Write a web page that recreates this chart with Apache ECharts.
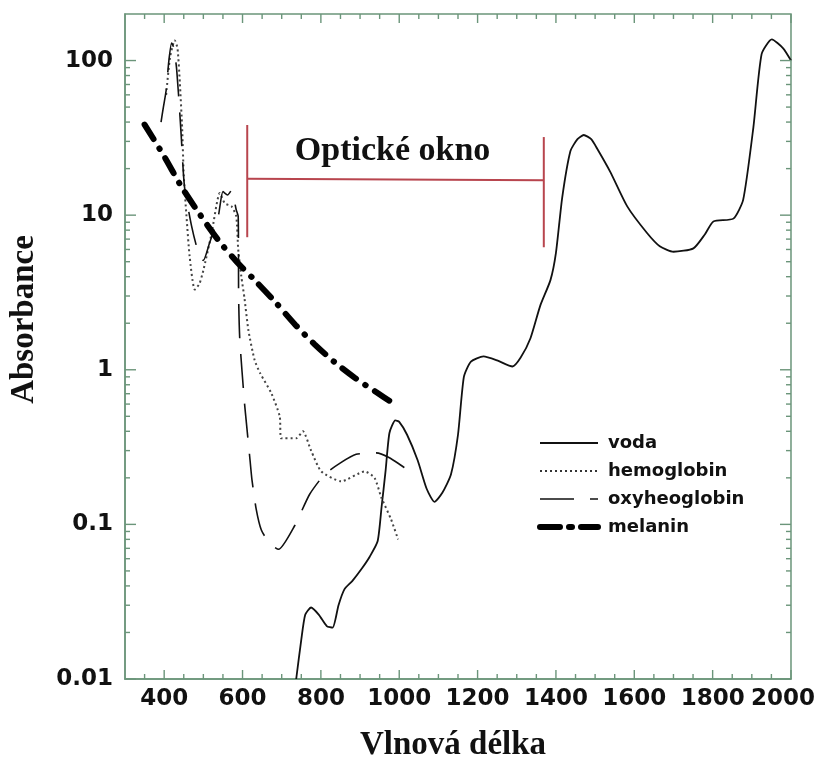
<!DOCTYPE html>
<html>
<head>
<meta charset="utf-8">
<script src="https://cdn.jsdelivr.net/npm/echarts@6/dist/echarts.min.js"></script>
<style>html,body{margin:0;padding:0;background:#fff}#c{width:818px;height:767px}</style>
</head>
<body>
<div id="c"></div>
<script>
// ---------- data ----------
const vodaX = [737,750,760,775,795,815,830,845,860,880,905,925,945,955,965,975,990,1000,1020,1047,1070,1090,1110,1132,1150,1165,1183,1215,1250,1289,1310,1335,1360,1386,1400,1416,1437,1455,1471,1490,1505,1539,1582,1632,1665,1700,1751,1780,1802,1853,1878,1904,1925,1951,1980,2000];
const vodaY = [0.01,0.018,0.026,0.029,0.026,0.022,0.0215,0.03,0.038,0.043,0.052,0.062,0.078,0.13,0.22,0.39,0.47,0.46,0.38,0.26,0.17,0.14,0.16,0.21,0.38,0.9,1.13,1.22,1.15,1.05,1.2,1.6,2.6,3.8,5.7,13,26,31,33,31,27,19,11.4,7.7,6.3,5.8,6.1,7.5,9.1,9.5,12.6,37,110,137,120,100];

const hemoX = [405,415,427,434,440,446,450,457,465,478,490,500,521,542,555,572,584,589,597,605,615,631,645,673,695,699,737,754,775,801,852,912,937,954,979,997];
const hemoY = [60,105,135,120,72,36,18,9.8,5.4,3.3,3.6,4.4,7.6,13.9,11.9,11.4,9.8,6.0,4.0,2.9,1.8,1.15,0.95,0.71,0.50,0.36,0.36,0.40,0.30,0.22,0.19,0.22,0.20,0.15,0.108,0.08];

const oxyX = [392,398,405,412,419,425,432,440,444,449,453,470,485,500,515,538,550,562,572,584,589,590,593,605,610,619,624,635,648,670,692,733,771,809,850,890,941,975,1013];
const oxyY = [40,50,64,100,130,120,87,45,31,18.7,14.5,8.5,6.0,5.1,6.5,9.8,14.2,13.5,14.5,10.8,9.8,3.0,1.57,0.61,0.45,0.263,0.195,0.125,0.092,0.075,0.069,0.098,0.156,0.21,0.25,0.284,0.29,0.27,0.233];

const melaninX = [350,400,444,490,538,585,631,682,735,784,835,886,940,988];
const melaninY = [38.5,24,15.3,10.2,6.9,5.0,3.8,2.77,1.95,1.46,1.12,0.89,0.72,0.6];

const seriesNames = ['voda','hemoglobin','oxyheoglobin','melanin'];

// optical window bracket (wavelength, absorbance)
const windowLeftX = [612, 612];
const windowLeftY = [38.3, 7.2];
const windowRightX = [1369, 1369];
const windowRightY = [32, 6.2];
const windowBarX = [612, 1369];
const windowBarY = [17.2, 16.8];
const windowLabel = 'Optické okno';
const windowLabelPos = [983, 25.8];

// axes
const xMin = 300, xMax = 2000;
const yMin = 0.01, yMax = 200;
const xTickValues = [400,600,800,1000,1200,1400,1600,1800,2000];
const xTickLabels = ['400','600','800','1000','1200','1400','1600','1800','2000'];
const xMinorTicks = [350,450,500,550,650,700,750,850,900,950,1050,1100,1150,1250,1300,1350,1450,1500,1550,1650,1700,1750,1850,1900,1950];
const yTickValues = [0.01,0.1,1,10,100];
const yTickLabels = ['0.01','0.1','1','10','100'];
const yMinorTicks = [0.02,0.03,0.04,0.05,0.06,0.07,0.08,0.09,0.2,0.3,0.4,0.5,0.6,0.7,0.8,0.9,2,3,4,5,6,7,8,9,20,30,40,50,60,70,80,90];
const xTitle = 'Vlnová délka';
const yTitle = 'Absorbance';

// ---------- chart ----------
const pairs = (xs, ys) => xs.map((x, i) => [x, ys[i]]);
const FRAME = '#6b957a';
const RED = '#b8454e';
const SANS = 'DejaVu Sans';
const SERIF = 'Liberation Serif';
const HIDDEN_SYMBOL = { color: 'rgba(0,0,0,0)', borderWidth: 0, opacity: 0 };

function tickSeries(axis, values, len) {
  return {
    type: 'custom', coordinateSystem: 'cartesian2d', silent: true, z: 6,
    data: values.map(v => axis === 'x' ? [v, 1] : [xMin, v]),
    renderItem: function (params, api) {
      const cs = params.coordSys;
      const p = api.coord([api.value(0), api.value(1)]);
      const st = { stroke: FRAME, lineWidth: 1.4 };
      if (axis === 'x') {
        return { type: 'group', children: [
          { type: 'line', shape: { x1: p[0], y1: cs.y + cs.height, x2: p[0], y2: cs.y + cs.height - len }, style: st },
          { type: 'line', shape: { x1: p[0], y1: cs.y, x2: p[0], y2: cs.y + len }, style: st }
        ]};
      }
      return { type: 'group', children: [
        { type: 'line', shape: { x1: cs.x, y1: p[1], x2: cs.x + len, y2: p[1] }, style: st },
        { type: 'line', shape: { x1: cs.x + cs.width, y1: p[1], x2: cs.x + cs.width - len, y2: p[1] }, style: st }
      ]};
    }
  };
}

function redLine(xs, ys) {
  return { type: 'line', data: pairs(xs, ys), symbol: 'none', silent: true, z: 3,
    lineStyle: { color: RED, width: 2 }, itemStyle: { color: RED } };
}

const chart = echarts.init(document.getElementById('c'), null, { renderer: 'canvas' });
chart.setOption({
  animation: false,
  backgroundColor: '#fff',
  grid: { left: 123, right: 27, top: 14, bottom: 87, show: true, borderColor: FRAME, borderWidth: 1.5, backgroundColor: 'transparent' },
  xAxis: {
    type: 'value', min: xMin, max: xMax, interval: 100,
    name: xTitle, nameLocation: 'middle', nameGap: 50,
    nameTextStyle: { fontFamily: SERIF, fontWeight: 'bold', fontSize: 33, color: '#111', padding: [0, 10, 0, 0] },
    axisLine: { show: true, lineStyle: { color: FRAME, width: 1.5 } },
    axisTick: { show: false }, splitLine: { show: false },
    axisLabel: {
      interval: 0, margin: 9, fontFamily: SANS, fontWeight: 'bold', fontSize: 23, color: '#111',
      formatter: function (v) {
        const i = xTickValues.indexOf(v);
        if (i < 0) return '';
        return i === xTickValues.length - 1 ? '{e|' + xTickLabels[i] + '}' : xTickLabels[i];
      },
      rich: { e: { fontFamily: SANS, fontWeight: 'bold', fontSize: 23, color: '#111', padding: [0, 16, 0, 0] } }
    }
  },
  yAxis: {
    type: 'log', logBase: 10, min: yMin, max: yMax,
    name: yTitle, nameLocation: 'middle', nameGap: 84,
    nameTextStyle: { fontFamily: SERIF, fontWeight: 'bold', fontSize: 33, color: '#111', padding: [0, 0, 0, 54] },
    axisLine: { show: true, lineStyle: { color: FRAME, width: 1.5 } },
    axisTick: { show: false }, splitLine: { show: false }, minorTick: { show: false },
    axisLabel: {
      margin: 12, fontFamily: SANS, fontWeight: 'bold', fontSize: 23, color: '#111',
      formatter: function (v) {
        const e = Math.log10(v);
        for (let i = 0; i < yTickValues.length; i++) {
          if (Math.abs(Math.log10(yTickValues[i]) - e) < 1e-6) return yTickLabels[i];
        }
        return '';
      }
    }
  },
  legend: {
    orient: 'vertical', left: 532, top: 427, itemWidth: 58, itemHeight: 14, itemGap: 6,
    itemStyle: HIDDEN_SYMBOL,
    textStyle: { fontFamily: SANS, fontWeight: 'bold', fontSize: 18, color: '#111', padding: [0, 0, 0, 5], lineHeight: 22 },
    data: [
      { name: seriesNames[0], itemStyle: HIDDEN_SYMBOL, lineStyle: { width: 2, color: '#111', opacity: 1 } },
      { name: seriesNames[1], itemStyle: HIDDEN_SYMBOL, lineStyle: { width: 2, color: '#333', type: [2, 3], opacity: 1 } },
      { name: seriesNames[2], itemStyle: HIDDEN_SYMBOL, lineStyle: { width: 1.6, color: '#111', type: [34, 16], opacity: 1 } },
      { name: seriesNames[3], itemStyle: HIDDEN_SYMBOL, lineStyle: { width: 6, color: '#000', type: [20, 9, 3, 9], cap: 'round', opacity: 1 } }
    ]
  },
  series: [
    { name: seriesNames[0], type: 'line', data: pairs(vodaX, vodaY), symbol: 'none', smooth: 0.2, z: 4,
      lineStyle: { color: '#111', width: 1.8 }, itemStyle: { color: '#111' } },
    { name: seriesNames[1], type: 'line', data: pairs(hemoX, hemoY), symbol: 'none', smooth: 0.2, z: 4,
      lineStyle: { color: '#444', width: 2, type: [2, 3] }, itemStyle: { color: '#444' } },
    { name: seriesNames[2], type: 'line', data: pairs(oxyX, oxyY), symbol: 'none', smooth: 0.2, z: 4,
      lineStyle: { color: '#111', width: 1.6, type: [34, 16] }, itemStyle: { color: '#111' } },
    { name: seriesNames[3], type: 'line', data: pairs(melaninX, melaninY), symbol: 'none', smooth: 0.3, z: 5,
      lineStyle: { color: '#000', width: 6, type: [17, 11, 0.5, 11], cap: 'round' }, itemStyle: { color: '#000' } },
    redLine(windowLeftX, windowLeftY),
    redLine(windowRightX, windowRightY),
    redLine(windowBarX, windowBarY),
    { type: 'scatter', data: [windowLabelPos], symbolSize: 1, silent: true, z: 6,
      itemStyle: { color: 'rgba(0,0,0,0)' },
      label: { show: true, position: 'inside', formatter: windowLabel, fontFamily: SERIF, fontWeight: 'bold', fontSize: 34,
        color: '#111', opacity: 1, textBorderWidth: 0 } },
    tickSeries('x', xTickValues, 9),
    tickSeries('x', xMinorTicks, 5),
    tickSeries('y', yTickValues, 11),
    tickSeries('y', yMinorTicks, 5)
  ]
});
</script>
</body>
</html>
